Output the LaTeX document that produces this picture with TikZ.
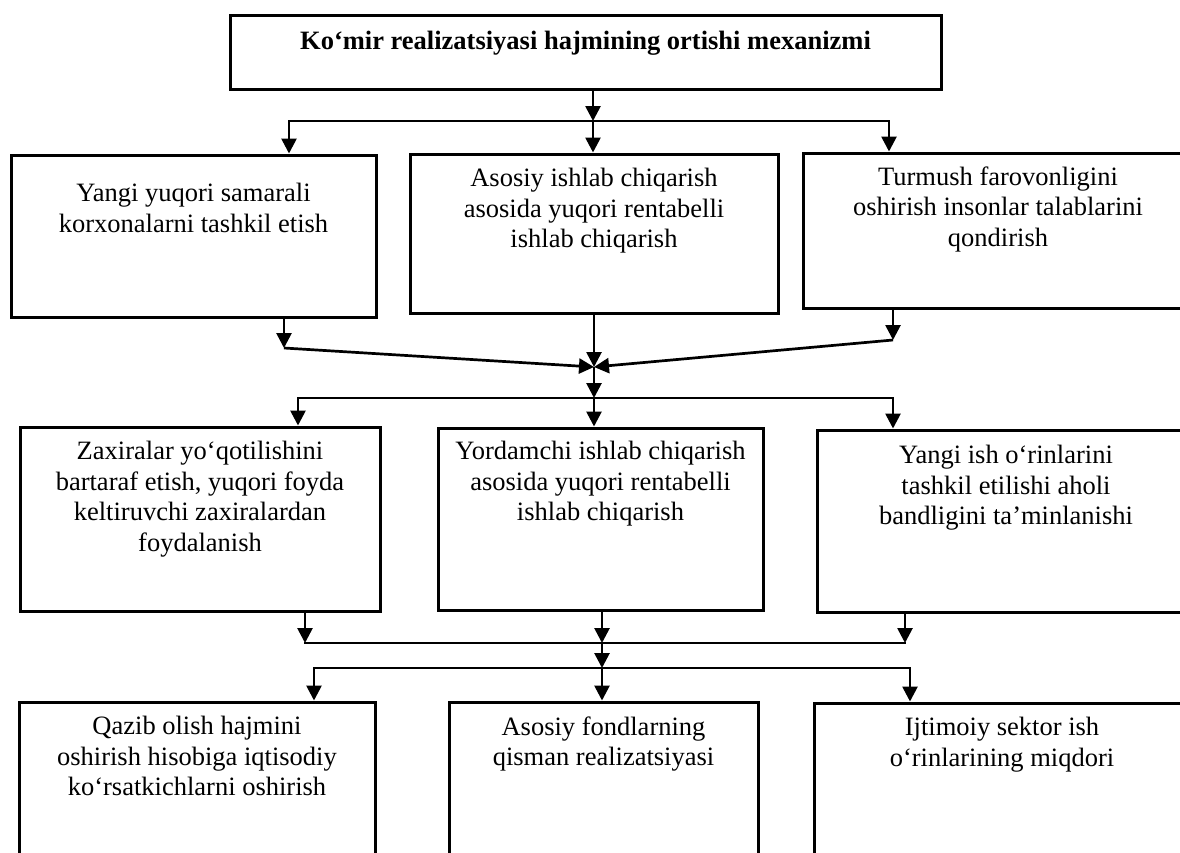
\documentclass[tikz,border=0pt]{standalone}
\usepackage{fontspec}
\setmainfont{Liberation Serif}
\usetikzlibrary{arrows.meta, calc}
\tikzset{
  blk/.style={draw, rectangle, inner sep=0pt, line width=3pt},
  txt/.style={align=center, anchor=north, inner sep=0pt,
    font=\fontsize{26.5}{30.5}\selectfont, execute at begin node=\strut},
  arr/.style={-{Triangle[length=15pt, width=15pt]}},
  arrs/.style={{Triangle[length=15pt, width=15pt]}-{Triangle[length=15pt, width=15pt]}},
  bus/.style={line cap=rect}
}

\begin{document}
\begin{tikzpicture}[x=1pt, y=-1pt, line width=2.7pt]
  
  \useasboundingbox (0, 0) rectangle (1180, 852);
  
  \node[blk, minimum width=711, minimum height=74] (top) at (585.5, 52) {};
  \node[txt, font=\fontsize{26.5}{30.5}\selectfont\bfseries] at ([yshift=-13.6pt]top.north)
    {Ko‘mir realizatsiyasi hajmining ortishi mexanizmi};
  
  \node[blk, minimum width=365, minimum height=162] (b11) at (193.5, 236) {};
  \node[blk, minimum width=368, minimum height=159] (b12) at (594, 233.5) {};
  \node[blk, minimum width=390, minimum height=155] (b13) at (998, 230.5) {};
  \node[txt] at ([yshift=-28.6pt]b11.north) {Yangi yuqori samarali\\korxonalarni tashkil etish};
  \node[txt] at ([yshift=-14.6pt]b12.north) {Asosiy ishlab chiqarish\\asosida yuqori rentabelli\\ishlab chiqarish};
  \node[txt] at ([yshift=-13.6pt]b13.north) {Turmush farovonligini\\oshirish insonlar talablarini\\qondirish};
  
  \node[blk, minimum width=360, minimum height=184] (b21) at (200, 519) {};
  \node[blk, minimum width=325, minimum height=182] (b22) at (600.5, 519) {};
  \node[blk, minimum width=378, minimum height=182] (b23) at (1006, 521) {};
  \node[txt] at ([yshift=-14.6pt]b21.north) {Zaxiralar yo‘qotilishini\\bartaraf etish, yuqori foyda\\keltiruvchi zaxiralardan\\foydalanish};
  \node[txt] at ([yshift=-13.6pt]b22.north) {Yordamchi ishlab chiqarish\\asosida yuqori rentabelli\\ishlab chiqarish};
  \node[txt] at ([yshift=-15.6pt]b23.north) {Yangi ish o‘rinlarini\\tashkil etilishi aholi\\bandligini ta’minlanishi};
  
  \node[blk, minimum width=356, minimum height=178] (b31) at (197, 791) {};
  \node[blk, minimum width=309, minimum height=178] (b32) at (603.5, 791) {};
  \node[blk, minimum width=376, minimum height=177] (b33) at (1002, 791.5) {};
  \node[txt] at ([yshift=-14.6pt]b31.north) {Qazib olish hajmini\\oshirish hisobiga iqtisodiy\\ko‘rsatkichlarni oshirish};
  \node[txt] at ([yshift=-14.6pt]b32.north) {Asosiy fondlarning\\qisman realizatsiyasi};
  \node[txt] at ([yshift=-14.6pt]b33.north) {Ijtimoiy sektor ish\\o‘rinlarining miqdori};
  
  % junction points
  \coordinate (a1) at (289, 121);
  \coordinate (a2) at (593, 121);
  \coordinate (a3) at (889, 121);
  \coordinate (c1) at (284, 348);
  \coordinate (c2) at (594, 367);
  \coordinate (c3) at (893, 340);
  \coordinate (d1) at (298, 398);
  \coordinate (d2) at (594, 398);
  \coordinate (d3) at (893, 398);
  \coordinate (e1) at (305, 643);
  \coordinate (e2) at (602, 643);
  \coordinate (e3) at (905, 643);
  \coordinate (f1) at (314, 668);
  \coordinate (f2) at (602, 668);
  \coordinate (f3) at (910, 668);
  
  \draw[arr] (top.south -| a2) -- (a2);
  \draw[arrs] (b11.north -| a1) -- (a1) -- (a3) -- (b13.north -| a3);
  \draw[arr] (a2) -- (b12.north -| a2);
  
  \draw[arr] (b11.south -| c1) -- (c1);
  \draw[arr] (b12.south -| c2) -- (c2);
  \draw[arr] (b13.south -| c3) -- (c3);
  \draw[arr] (c1) -- (c2);
  \draw[arr] (c3) -- (c2);
  \draw[arr] (c2) -- (d2);
  \draw[arrs] (b21.north -| d1) -- (d1) -- (d3) -- (b23.north -| d3);
  \draw[arr] (d2) -- (b22.north -| d2);
  
  \draw[arr] (b21.south -| e1) -- (e1);
  \draw[arr] (b22.south -| e2) -- (e2);
  \draw[arr] (b23.south -| e3) -- (e3);
  \draw[bus] (e1) -- (e3);
  \draw[arr] (e2) -- (f2);
  \draw[arrs] (b31.north -| f1) -- (f1) -- (f3) -- (b33.north -| f3);
  \draw[arr] (f2) -- (b32.north -| f2);
  
\end{tikzpicture}
\end{document}
